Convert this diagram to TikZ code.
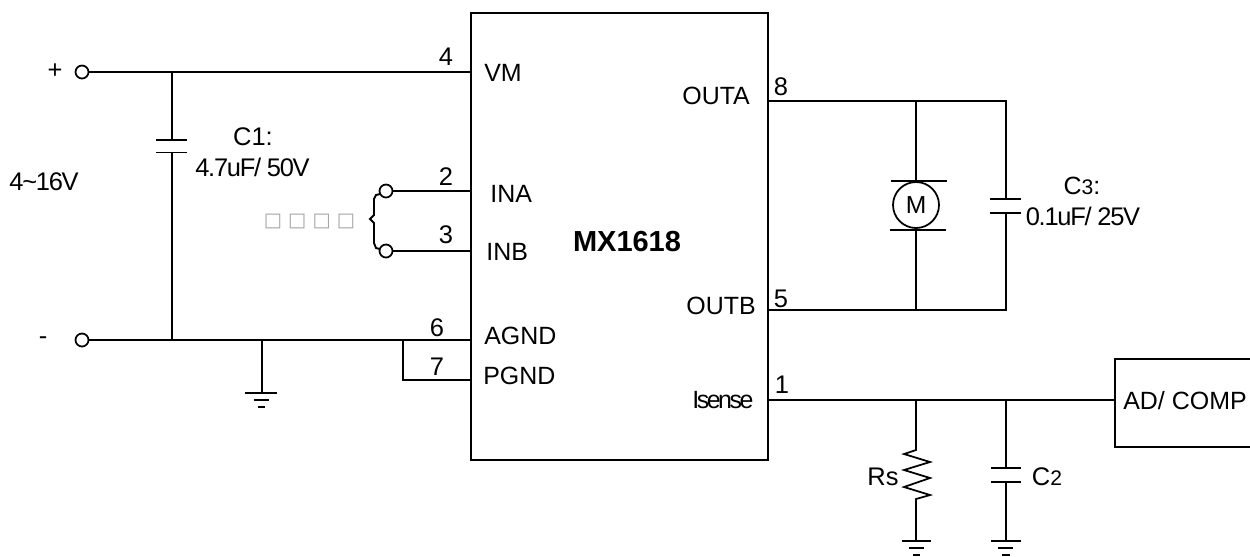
\documentclass[tikz,border=0pt]{standalone}
\usepackage{fontspec}
\setmainfont{Liberation Sans}
\newfontfamily\boxfont{DejaVu Sans}

\begin{document}
\begin{tikzpicture}[
    x=0.02cm, y=-0.02cm,
    wire/.style={draw, line width=1pt},
    thinwire/.style={draw, line width=0.6pt},
    plate/.style={draw, line width=1.1pt},
    chip/.style={rectangle, draw, line width=1pt, anchor=north west, inner sep=0pt},
    terminal/.style={circle, draw, line width=1pt, fill=white, minimum size=0.26cm, inner sep=0pt},
    motor/.style={circle, draw, line width=1pt, minimum size=0.92cm, inner sep=0pt, font=\fontsize{14}{16}\selectfont},
    label/.style={inner sep=0pt, font=\fontsize{14.5}{16}\selectfont\addfontfeature{LetterSpace=-5}},
    pin/.style={inner sep=0pt, font=\fontsize{14.5}{16}\selectfont},
    sig/.style={inner sep=0pt, anchor=west, font=\fontsize{14.2}{16}\selectfont}
]

\path[use as bounding box] (0,0) rectangle (1250,556);

% chip and converter
\node[chip, minimum width=5.94cm, minimum height=8.94cm] (ic) at (470,12) {};
\node[chip, minimum width=2.9cm, minimum height=1.76cm] (adc) at (1114,358) {};
\node[pin, font=\fontsize{16.5}{18}\selectfont\bfseries] (name) at (627,242) {MX1618};
\node[pin, font=\fontsize{14.2}{16}\selectfont] (adctext) at (1185,401) {AD/ COMP};

% pin names
\node[sig] (vm) at (484,73) {VM};
\node[sig] (ina) at (490,194) {INA};
\node[sig] (inb) at (486,252) {INB};
\node[sig] (agnd) at (484,336) {AGND};
\node[sig] (pgnd) at (483,376) {PGND};
\node[sig] (outa) at (682,96) {OUTA};
\node[sig] (outb) at (686,306) {OUTB};
\node[sig, font=\fontsize{14.2}{16}\selectfont\addfontfeature{LetterSpace=-10}] (isense) at (692,400) {Isense};

% pin numbers
\node[pin] (p4) at (446,57) {4};
\node[pin] (p2) at (446,177) {2};
\node[pin] (p3) at (446,235) {3};
\node[pin] (p6) at (437,328) {6};
\node[pin] (p7) at (437,367) {7};
\node[pin] (p8) at (781,87) {8};
\node[pin] (p5) at (781,299) {5};
\node[pin] (p1) at (782,385) {1};

% terminals
\node[terminal] (plus) at (82,72) {};
\node[terminal] (minus) at (82,340) {};
\node[terminal] (ta) at (386,191) {};
\node[terminal] (tb) at (386,251) {};
\node[pin] (plustext) at (55,71) {+};
\node[pin] (minustext) at (43,341) {-};
\node[label] (supply) at (44,182) {4\textasciitilde16V};
\node[pin, text=gray!70, font=\fontsize{11}{13}\boxfont] (pwm) at (309.5,221) {□ □ □ □};

% junctions
\coordinate (j1) at (172,72);
\coordinate (j2) at (172,340);
\coordinate (j3) at (262,340);
\coordinate (j4) at (403,340);
\coordinate (j5) at (916,101);
\coordinate (j6) at (1006,101);
\coordinate (j7) at (916,310);
\coordinate (j8) at (1006,310);
\coordinate (j9) at (916,400);
\coordinate (j10) at (1006,400);

% supply side
\draw[wire] (plus) -- (ic.west |- plus);
\draw[wire] (minus) -- (ic.west |- minus);
\draw[wire] (ta) -- (ic.west |- ta);
\draw[wire] (tb) -- (ic.west |- tb);
\draw[thinwire] (j4) |- (470,380);
\draw[wire, line width=1.1pt] (380,194) -- (376,195) -- (374,199) -- (374,215) -- (370,219) -- (374,223) -- (374,243) -- (376,248) -- (380,249);

% C1
\node[pin] (c1a) at (253,137) {C1:};
\node[label] (c1b) at (252.5,167) {4.7uF/ 50V};
\draw[wire] (j1) -- (172,140);
\draw[wire] (172,152.5) -- (j2);
\draw[plate] (156,140) -- (187,140);
\draw[plate] (156,152.5) -- (187,152.5);

% ground of the supply
\draw[wire, line width=1.2pt] (j3) -- (262,393);
\draw[plate] (245,393) -- (277,393);
\draw[plate] (254,400) -- (269,400);
\draw[plate] (258,407) -- (265,407);

% motor
\node[motor] (m) at (916,205) {M};
\draw[wire] (ic.east |- j5) -- (j6) -- (1006,199);
\draw[wire] (1006,213) -- (j8) -- (ic.east |- j8);
\draw[wire] (j5) -- (m);
\draw[wire] (j7) -- (m);
\draw[plate] (891,181) -- (947,181);
\draw[plate] (890,230) -- (946,230);

% C3
\node[pin, font=\fontsize{14.2}{16}\selectfont] (c3a) at (1082,186) {C{\fontsize{12}{14}\selectfont 3}:};
\node[label] (c3b) at (1083,216) {0.1uF/ 25V};
\draw[plate] (990,199) -- (1021,199);
\draw[plate] (990,213) -- (1021,213);

% sense line
\draw[wire] (ic.east |- j9) -- (adc.west |- j9);
\draw[wire] (j9) -- (916,450) -- (904,454) -- (930,462) -- (904,470) -- (930,478) -- (904,487) -- (930,495) -- (916,499) -- (916,541);
\draw[wire] (j10) -- (1006,468);
\draw[wire] (1006,482) -- (1006,541);
\draw[plate] (991,468) -- (1021,468);
\draw[plate] (991,482) -- (1021,482);
\node[pin] (rs) at (883,477) {Rs};
\node[pin] (c2) at (1047,477) {C{\fontsize{12}{14}\selectfont 2}};

% grounds of the sense line
\draw[plate] (902,541) -- (931,541);
\draw[plate] (909,548) -- (924,548);
\draw[plate] (913,555) -- (920,555);
\draw[plate] (991,541) -- (1021,541);
\draw[plate] (998,548) -- (1013,548);
\draw[plate] (1002,555) -- (1010,555);

\end{tikzpicture}
\end{document}
